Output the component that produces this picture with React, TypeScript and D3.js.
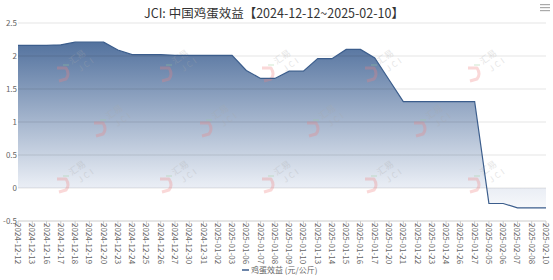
import React from "react";
import * as d3 from "d3";

const categories = [
  "2024-12-12","2024-12-13","2024-12-16","2024-12-17","2024-12-18","2024-12-19","2024-12-20",
  "2024-12-23","2024-12-24","2024-12-25","2024-12-26","2024-12-27","2024-12-30","2024-12-31",
  "2025-01-02","2025-01-03","2025-01-06","2025-01-07","2025-01-08","2025-01-09","2025-01-10",
  "2025-01-13","2025-01-14","2025-01-15","2025-01-16","2025-01-17","2025-01-20","2025-01-21",
  "2025-01-22","2025-01-23","2025-01-24","2025-01-26","2025-01-27","2025-02-05","2025-02-06",
  "2025-02-07","2025-02-08","2025-02-10"
];
const values = [
  2.16,2.16,2.16,2.17,2.21,2.21,2.21,
  2.09,2.02,2.02,2.02,2.01,2.01,2.01,
  2.01,2.01,1.78,1.66,1.66,1.77,1.77,
  1.96,1.96,2.10,2.10,1.97,1.64,1.31,
  1.31,1.31,1.31,1.31,1.31,-0.235,-0.235,
  -0.30,-0.30,-0.30
];
const yTicks = [-0.5, 0, 0.5, 1, 1.5, 2, 2.5];
const title = "JCI: 中国鸡蛋效益【2024-12-12~2025-02-10】";
const legendLabel = "鸡蛋效益 (元/公斤)";

const W = 553, H = 280;
const FONT = "'Noto Sans CJK SC', 'Noto Sans', sans-serif";

export default function App() {
  const x = d3.scalePoint<string>().domain(categories).range([18, 546]);
  const y = d3.scaleLinear().domain([-0.5, 2.5]).range([221, 23]);
  const data = categories.map((c, i) => ({ c, v: values[i] }));
  const area = d3.area<{ c: string; v: number }>()
    .x(d => x(d.c)!)
    .y0(y(0))
    .y1(d => y(d.v));
  const line = d3.line<{ c: string; v: number }>()
    .x(d => x(d.c)!)
    .y(d => y(d.v));

  const wmRow1 = [75, 178, 280, 383, 486];
  const wmRow2 = [112, 218, 325, 432];
  const wms: [number, number][] = [
    ...wmRow1.map(cx => [cx, 66] as [number, number]),
    ...wmRow2.map(cx => [cx, 121] as [number, number]),
    ...wmRow1.map(cx => [cx, 177] as [number, number]),
  ];

  return (
    <div style={{ position: "absolute", left: 0, top: 0 }}>
      <svg width={W} height={H} style={{ display: "block", background: "#fff" }} fontFamily={FONT}>
        <defs>
          <linearGradient id="ag" gradientUnits="userSpaceOnUse" x1="0" y1={y(2.21)} x2="0" y2={y(-0.3)}>
            <stop offset="0" stopColor="#53729e" />
            <stop offset="0.85" stopColor="#e6ebf3" />
            <stop offset="1" stopColor="#f7f8fb" />
          </linearGradient>
        </defs>
        <text x={274} y={18} textAnchor="middle" fontSize={12.5} fill="#333">{title}</text>
        <g fill="#aaa">
          <rect x={540} y={4} width={10} height={1.2} />
          <rect x={540} y={7} width={10} height={1.2} />
          <rect x={540} y={10} width={10} height={1.2} />
        </g>
        <path d={area(data)!} fill="url(#ag)" />
        {yTicks.map(t => (
          <g key={t}>
            <line x1={18} x2={546} y1={y(t)} y2={y(t)} stroke={t === -0.5 ? "#ccc" : "rgba(0,0,0,0.1)"} strokeWidth={1} />
            <text x={17} y={y(t) + 3} textAnchor="end" fontSize={8} fill="#666">{t}</text>
          </g>
        ))}
        {wms.map(([cx, cy], i) => (
          <g key={i} transform={`translate(${cx},${cy})`} opacity={0.3}>
            <path d="M-18,2 L-9,2 Q-5,8 -9,13 L-16,15" fill="none" stroke="#f08080" strokeWidth={3} strokeLinejoin="round" />
            <line x1={-12} x2={-6} y1={-1} y2={-1} stroke="#9c9" strokeWidth={1.5} />
            <g transform="rotate(-35)">
              <text x={-2} y={-3} fontSize={9} fill="#aaa">汇易</text>
              <text x={1} y={8} fontSize={8} fill="#aaa" letterSpacing={2.5}>JCI</text>
            </g>
          </g>
        ))}
        <path d={line(data)!} fill="none" stroke="#3b5d8c" strokeWidth={1.2} />
        {categories.map(c => (
          <g key={c}>
            <line x1={x(c)!} x2={x(c)!} y1={221} y2={225} stroke="#ccc" />
            <text transform={`translate(${x(c)! - 3},${223}) rotate(90)`} fontSize={8} fill="#666" textAnchor="start">{c}</text>
          </g>
        ))}
        <line x1={242} x2={249} y1={270} y2={270} stroke="#3b5d8c" strokeWidth={1.5} />
        <text x={251} y={273} fontSize={8} fill="#666">{legendLabel}</text>
      </svg>
    </div>
  );
}
